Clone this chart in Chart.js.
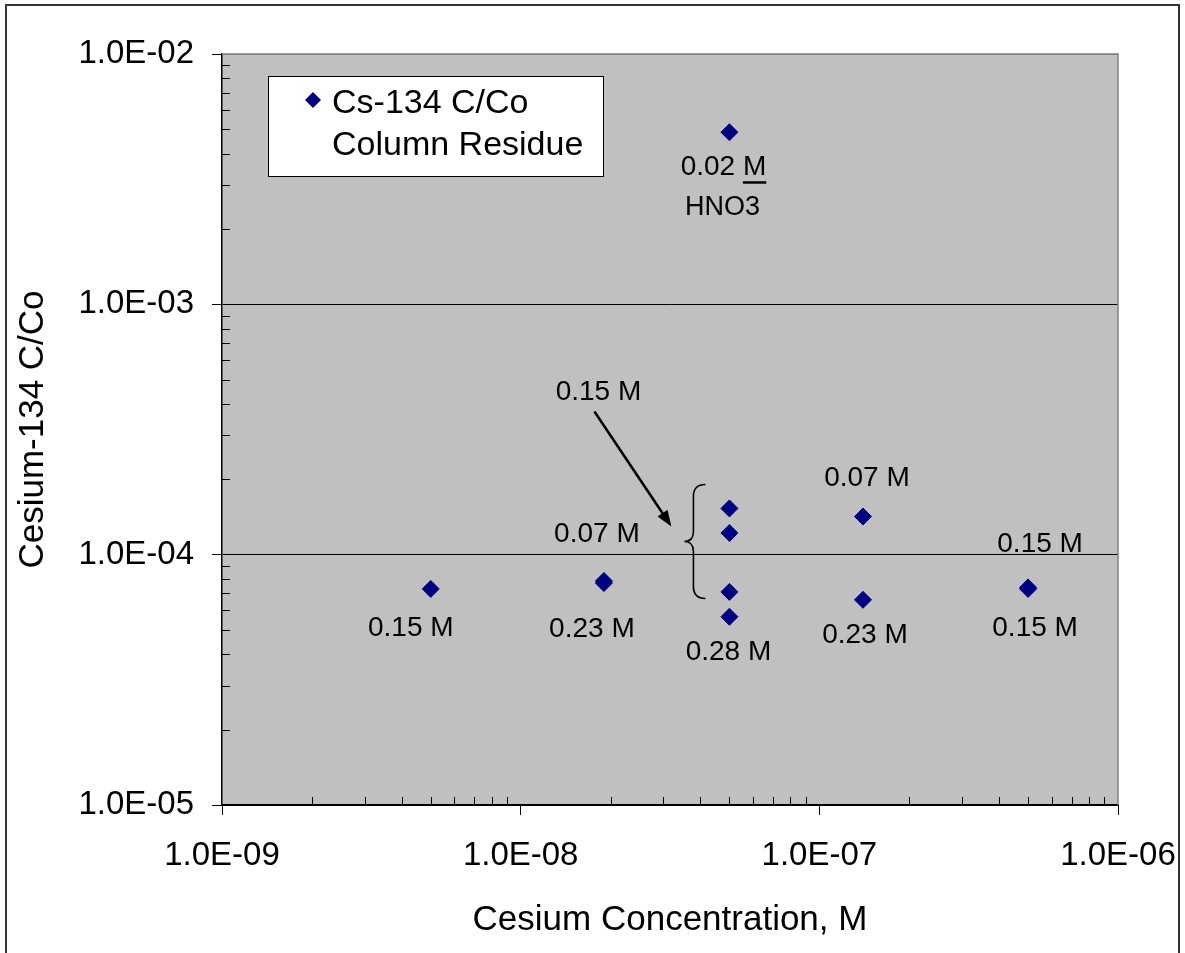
<!DOCTYPE html>
<html lang="en">
<head>
    <meta charset="UTF-8">
    <title>Cs-134 C/Co Column Residue</title>
    <script src="https://cdn.jsdelivr.net/npm/chart.js"></script>
    <style>
        html, body { margin: 0; padding: 0; background: #fff; }
        #wrap { width: 1185px; height: 953px; }
    </style>
</head>
<body>
    <div id="wrap"><canvas id="csChart" width="1185" height="953"></canvas></div>
    <script>
        // Cesium concentration (M) and Cs-134 C/Co
        const csConc  = [5e-9, 1.9e-8, 1.9e-8, 5e-8, 5e-8, 5e-8, 5e-8, 5e-8, 1.4e-7, 1.4e-7, 5e-7, 5e-7];
        const csRatio = [7.3e-5, 7.7e-5, 7.85e-5, 4.87e-3, 1.53e-4, 1.22e-4, 7.1e-5, 5.65e-5, 1.42e-4, 6.6e-5, 7.3e-5, 7.4e-5];

        const xTicks = [1e-9, 1e-8, 1e-7, 1e-6];
        const xTickLabels = ['1.0E-09', '1.0E-08', '1.0E-07', '1.0E-06'];
        const yTicks = [1e-5, 1e-4, 1e-3, 1e-2];
        const yTickLabels = ['1.0E-05', '1.0E-04', '1.0E-03', '1.0E-02'];

        const legendLines = ['Cs-134 C/Co', 'Column Residue'];

        // point labels: text and the point index they sit next to
        const noteText  = ['0.15 M', '0.23 M', '0.07 M', '0.28 M', '0.07 M', '0.23 M', '0.15 M', '0.15 M', '0.02 M', 'HNO3', '0.15 M'];
        const notePoint = [0, 1, 1, 7, 8, 9, 10, 10, 3, 3, 4];

        const FONT = "'Liberation Sans', Arial, sans-serif";
        Chart.defaults.font.family = FONT;
        Chart.defaults.color = '#000';

        // pixel offsets of each note from its point (layout only)
        const noteOffsets = [
            [-20, 39], [-12, 46], [-7, -49], [-1, 36], [4, -38],
            [2, 35], [12, -45], [7, 39], [-6, 35], [-7, 75], [-131, -116]
        ];

        const frameAndBack = {
            id: 'frameAndBack',
            beforeDraw(chart) {
                const { ctx, chartArea: a } = chart;
                ctx.save();
                ctx.fillStyle = '#fff';
                ctx.fillRect(0, 0, chart.width, chart.height);
                ctx.strokeStyle = '#333';
                ctx.lineWidth = 2;
                ctx.strokeRect(6, 5, 1173, 1000);
                ctx.fillStyle = '#c0c0c0';
                ctx.fillRect(a.left, a.top, a.right - a.left, a.bottom - a.top);
                ctx.restore();
            },
            beforeDatasetsDraw(chart) {
                const { ctx, chartArea: a, scales: { x, y } } = chart;
                ctx.save();
                // gray top/right frame of the plot area
                ctx.strokeStyle = '#808080';
                ctx.lineWidth = 1.5;
                ctx.beginPath();
                ctx.moveTo(a.left, a.top);
                ctx.lineTo(a.right, a.top);
                ctx.lineTo(a.right, a.bottom);
                ctx.stroke();
                // minor ticks, pointing inside
                ctx.strokeStyle = '#000';
                ctx.lineWidth = 1;
                ctx.beginPath();
                for (let e = -9; e < -6; e++) {
                    for (let m = 2; m <= 9; m++) {
                        const px = Math.round(x.getPixelForValue(m * Math.pow(10, e))) + 0.5;
                        ctx.moveTo(px, a.bottom);
                        ctx.lineTo(px, a.bottom - 8);
                    }
                }
                for (let e = -5; e < -2; e++) {
                    for (let m = 2; m <= 9; m++) {
                        const py = Math.round(y.getPixelForValue(m * Math.pow(10, e))) + 0.5;
                        ctx.moveTo(a.left, py);
                        ctx.lineTo(a.left + 8, py);
                    }
                }
                ctx.stroke();
                ctx.restore();
            }
        };

        const notesAndLegend = {
            id: 'notesAndLegend',
            afterDatasetsDraw(chart) {
                const { ctx, chartArea: a } = chart;
                const pts = chart.getDatasetMeta(0).data;
                ctx.save();
                ctx.fillStyle = '#000';
                ctx.textAlign = 'center';
                ctx.textBaseline = 'middle';
                noteText.forEach((t, i) => {
                    const p = pts[notePoint[i]];
                    const cx = p.x + noteOffsets[i][0];
                    const cy = p.y + noteOffsets[i][1];
                    ctx.font = (t === 'HNO3' ? '27px ' : '28px ') + FONT;
                    ctx.fillText(t, cx, cy);
                    if (t === '0.02 M') {
                        // underlined M
                        const w = ctx.measureText(t).width;
                        const mw = ctx.measureText('M').width;
                        ctx.fillRect(cx + w / 2 - mw, cy + 14, mw, 2.5);
                    }
                });

                // arrow pointing at the bracket
                const p4 = pts[4];
                const sx = p4.x - 135, sy = p4.y - 97;
                const ex = p4.x - 58, ey = p4.y + 18;
                const ang = Math.atan2(ey - sy, ex - sx);
                ctx.strokeStyle = '#000';
                ctx.lineWidth = 2.5;
                ctx.beginPath();
                ctx.moveTo(sx, sy);
                ctx.lineTo(ex - 12 * Math.cos(ang), ey - 12 * Math.sin(ang));
                ctx.stroke();
                ctx.beginPath();
                ctx.moveTo(ex, ey);
                ctx.lineTo(ex - 16 * Math.cos(ang) + 6 * Math.sin(ang), ey - 16 * Math.sin(ang) - 6 * Math.cos(ang));
                ctx.lineTo(ex - 16 * Math.cos(ang) - 6 * Math.sin(ang), ey - 16 * Math.sin(ang) + 6 * Math.cos(ang));
                ctx.closePath();
                ctx.fill();

                // curly bracket around the four points at 5E-08
                const bx = p4.x - 24, top = p4.y - 24, bot = p4.y + 90, mid = p4.y + 33;
                ctx.lineWidth = 1.6;
                ctx.beginPath();
                ctx.moveTo(bx, top);
                ctx.quadraticCurveTo(bx - 12, top, bx - 12, top + 12);
                ctx.lineTo(bx - 12, mid - 10);
                ctx.quadraticCurveTo(bx - 12, mid, bx - 21, mid);
                ctx.quadraticCurveTo(bx - 12, mid, bx - 12, mid + 10);
                ctx.lineTo(bx - 12, bot - 12);
                ctx.quadraticCurveTo(bx - 12, bot, bx, bot);
                ctx.stroke();

                // legend box
                const lx = a.left + 46, ly = a.top + 22;
                ctx.fillStyle = '#fff';
                ctx.fillRect(lx, ly, 335, 100);
                ctx.lineWidth = 1;
                ctx.strokeStyle = '#000';
                ctx.strokeRect(lx + 0.5, ly + 0.5, 335, 100);
                ctx.fillStyle = '#000080';
                ctx.beginPath();
                ctx.moveTo(lx + 45 - 8, ly + 24);
                ctx.lineTo(lx + 45, ly + 16);
                ctx.lineTo(lx + 45 + 8, ly + 24);
                ctx.lineTo(lx + 45, ly + 32);
                ctx.closePath();
                ctx.fill();
                ctx.fillStyle = '#000';
                ctx.font = '34px ' + FONT;
                ctx.textAlign = 'left';
                ctx.textBaseline = 'alphabetic';
                ctx.fillText(legendLines[0], lx + 64, ly + 37);
                ctx.fillText(legendLines[1], lx + 64, ly + 79);
                ctx.restore();
            }
        };

        const ctx = document.getElementById('csChart').getContext('2d');
        const csChart = new Chart(ctx, {
            type: 'scatter',
            data: {
                datasets: [{
                    label: 'Cs-134 C/Co Column Residue',
                    data: csConc.map((c, i) => ({ x: c, y: csRatio[i] })),
                    pointStyle: 'rectRot',
                    pointRadius: 8.5,
                    pointHoverRadius: 8.5,
                    backgroundColor: '#000080',
                    borderColor: '#000080',
                    borderWidth: 1
                }]
            },
            options: {
                responsive: false,
                animation: false,
                layout: { padding: { top: 54, right: 67, left: 0, bottom: 0 } },
                plugins: { legend: { display: false }, tooltip: { enabled: false } },
                scales: {
                    x: {
                        type: 'logarithmic',
                        position: 'bottom',
                        min: 1e-9,
                        max: 1e-6,
                        afterBuildTicks: s => { s.ticks = xTicks.map(v => ({ value: v })); },
                        afterFit: s => { s.height = 148; s.paddingLeft = 0; s.paddingRight = 0; },
                        ticks: {
                            autoSkip: false,
                            maxRotation: 0,
                            padding: 21,
                            font: { size: 33 },
                            callback: (v, i) => xTickLabels[i]
                        },
                        grid: { drawOnChartArea: false, drawTicks: true, tickLength: 10, color: '#000' },
                        border: { color: '#000', width: 2 },
                        title: {
                            display: true,
                            text: 'Cesium Concentration, M',
                            font: { size: 35 },
                            padding: { top: 0, bottom: 12 }
                        }
                    },
                    y: {
                        type: 'logarithmic',
                        min: 1e-5,
                        max: 1e-2,
                        afterBuildTicks: s => { s.ticks = yTicks.map(v => ({ value: v })); },
                        afterFit: s => { s.width = 222; s.paddingTop = 0; s.paddingBottom = 0; },
                        ticks: {
                            autoSkip: false,
                            padding: 18,
                            font: { size: 33 },
                            callback: (v, i) => yTickLabels[i]
                        },
                        grid: {
                            drawTicks: true,
                            tickLength: 10,
                            color: c => (c.tick && c.tick.value === 1e-2) ? '#808080' : '#000',
                            tickColor: '#000'
                        },
                        border: { color: '#000', width: 1.5 },
                        title: {
                            display: true,
                            text: 'Cesium-134 C/Co',
                            font: { size: 35 },
                            padding: { top: 12, bottom: 0 }
                        }
                    }
                }
            },
            plugins: [frameAndBack, notesAndLegend]
        });
    </script>
</body>
</html>
